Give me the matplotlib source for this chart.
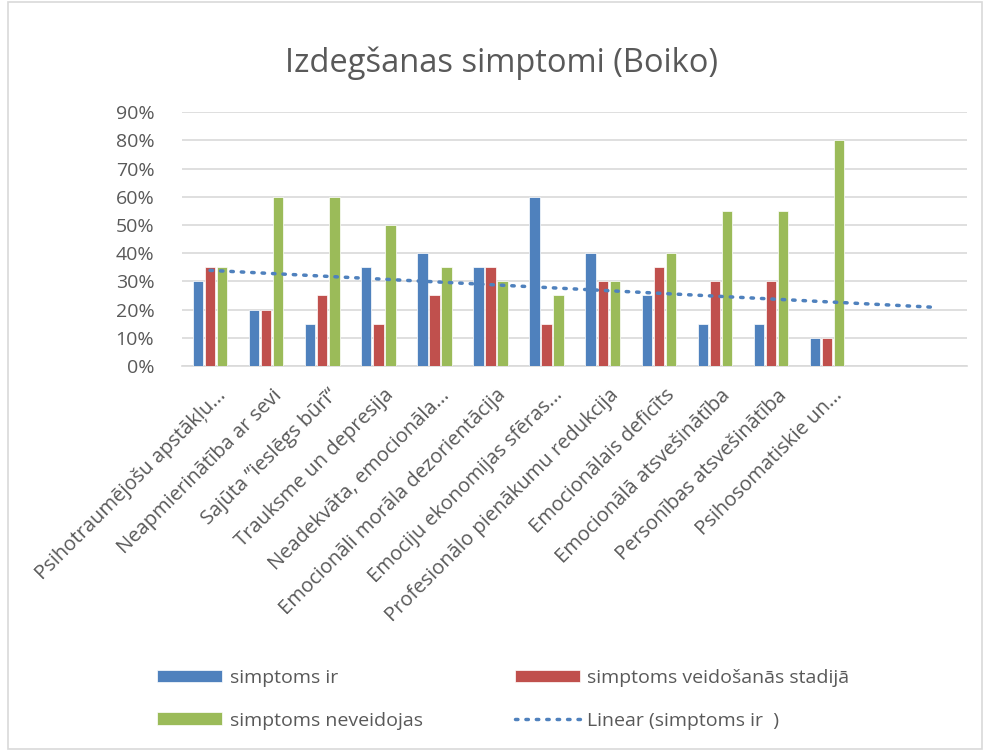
import numpy as np
import matplotlib.pyplot as plt
from matplotlib.patches import Rectangle

plt.rcParams['font.family'] = ['Open Sans', 'DejaVu Sans']

categories = [
    "Psihotraumējošu apstākļu...",
    "Neapmierinātība ar sevi",
    "Sajūta \u201dieslēgs būrī\u201c",
    "Trauksme un depresija",
    "Neadekvāta, emocionāla...",
    "Emocionāli morāla dezorientācija",
    "Emociju ekonomijas sfēras...",
    "Profesionālo pienākumu redukcija",
    "Emocionālais deficīts",
    "Emocionālā atsvešinātība",
    "Personības atsvešinātība",
    "Psihosomatiskie un...",
]
simptoms_ir = [30, 20, 15, 35, 40, 35, 60, 40, 25, 15, 15, 10]
veidosanas = [35, 20, 25, 15, 25, 35, 15, 30, 35, 30, 30, 10]
neveidojas = [35, 60, 60, 50, 35, 30, 25, 30, 40, 55, 55, 80]
n_slots = 14  # two empty categories at the end of the axis

blue, red, green = '#4F81BD', '#C0504D', '#9BBB59'
grey_text = '#595959'

fig = plt.figure(figsize=(9.84, 7.51), dpi=100)
fig.patches.append(Rectangle((0.008, 0.003), 0.99, 0.994, transform=fig.transFigure,
                             fill=False, edgecolor='#d9d9d9', linewidth=1.2))

ax = fig.add_axes([0.185, 0.5127, 0.798, 0.3378])

x = np.arange(len(categories))
w = 0.185
step = 0.215
ir = np.array(simptoms_ir) / 100
ax.bar(x - step, ir, w, color=blue, edgecolor='white', linewidth=0.5, label='simptoms ir', zorder=3)
ax.bar(x, np.array(veidosanas) / 100, w, color=red, edgecolor='white', linewidth=0.5,
       label='simptoms veidošanās stadijā', zorder=3)
ax.bar(x + step, np.array(neveidojas) / 100, w, color=green, edgecolor='white', linewidth=0.5,
       label='simptoms neveidojas', zorder=3)

# linear trendline over the blue series (1-based x like Excel)
k, b = np.polyfit(x + 1, ir, 1)
xt = np.linspace(1, n_slots - 0.1, 50)
ax.plot(xt - 1, k * xt + b, color=blue, linestyle=(0, (0.7, 2.3)), linewidth=2.5,
        dash_capstyle='round', label='Linear (simptoms ir  )', zorder=4)

ax.set_xlim(-0.5, n_slots - 0.5)
ax.set_ylim(0, 0.9)
ax.set_yticks(np.arange(0, 0.91, 0.1))
ax.set_yticklabels([f"{int(round(v * 100))}%" for v in np.arange(0, 0.91, 0.1)],
                   fontsize=14, color=grey_text)
ax.set_xticks(x + 0.1)
ax.set_xticklabels(categories, rotation=45, ha='right', va='top', rotation_mode='anchor',
                   fontsize=14.5, color=grey_text)
ax.tick_params(axis='both', length=0)
ax.tick_params(axis='x', pad=14)
ax.tick_params(axis='y', pad=20)
ax.grid(axis='y', color='#d9d9d9', linewidth=1.2, zorder=0)
for s in ['top', 'right', 'left']:
    ax.spines[s].set_visible(False)
ax.spines['bottom'].set_color('#d9d9d9')
ax.spines['bottom'].set_linewidth(1.2)

fig.text(0.51, 0.916, "Izdegšanas simptomi (Boiko)", ha='center', va='center',
         fontsize=23.5, color=grey_text)

h, l = ax.get_legend_handles_labels()
order = [1, 3, 2, 0]  # blue, green, red, trend -> filled column-wise
h = [h[i] for i in order]
l = [l[i] for i in order]
leg = fig.legend(h, l, ncol=2, loc='upper left', bbox_to_anchor=(0.142, 0.133),
                 frameon=False, fontsize=14, handlelength=3.35, handleheight=0.6,
                 handletextpad=0.4, labelspacing=1.28, columnspacing=4.7,
                 labelcolor=grey_text)

fig.savefig('out.png', dpi=100)
